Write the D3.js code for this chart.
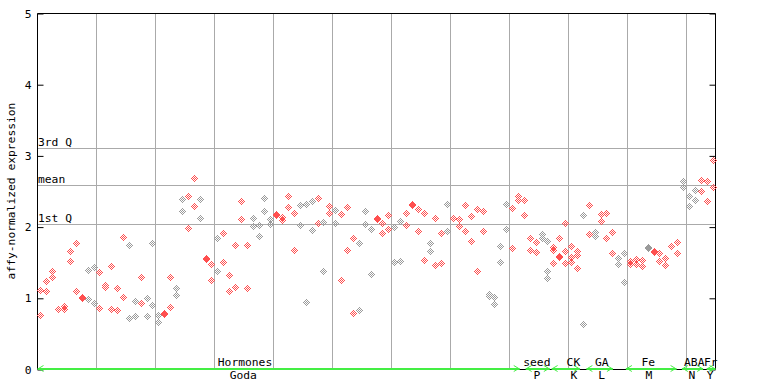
<!DOCTYPE html>
<html><head><meta charset="utf-8">
<script src="https://cdn.jsdelivr.net/npm/d3@7"></script>
<style>
body{margin:0;background:#fff}
svg{display:block}
text{font-family:"DejaVu Sans Mono",monospace;font-size:11.3px;fill:#000}
</style>
</head><body><svg id="c" width="768" height="384"></svg>
<script>
// expression values per sample (replicates)
const values = [
[1.12,0.77],[1.25,1.10],[1.38,1.30],[0.85],[0.89,0.85],[1.66,1.53],[1.77,1.10],[1.02,1.006],[1.40,0.99],[1.44,0.94],
[1.37,0.87],[1.19,1.16],[1.46,0.85],[1.15,0.84],[1.86,1.02],[1.75,0.73],[0.96,0.75],[1.30,0.94],[1.01,0.75],[1.77,0.91],
[0.77,0.67],[0.79,0.776],[1.30,0.88],[1.15,1.04],[2.40,2.22],[2.43,1.99],[2.69,2.30],[2.40,2.13],[1.56,1.546],[1.48,1.26],
[1.85,1.39],[1.92,1.51],[1.33,1.10],[1.75,1.16],[2.37,2.12],[1.75,1.14],[2.13,2.02],[2.03,1.88],[2.41,2.23],[2.12,2.05],
[2.18,2.166],[2.14,2.10],[2.43,2.28],[2.20,1.68],[2.31,2.03],[2.33,0.95],[2.36,1.96],[2.41,2.06],[2.07,1.39],[2.30,2.20],
[2.24,2.06],[2.19,1.26],[2.28,1.68],[1.84,0.80],[1.77,0.84],[2.23,2.05],[1.98,1.34],[2.13,2.116],[2.06,1.92],[2.17,1.98],
[2.00,1.51],[2.09,1.53],[2.20,2.03],[2.33,2.316],[2.26,1.95],[2.20,1.54],[1.78,1.67],[2.13,1.47],[1.92,1.50],[2.33,1.95],
[2.13],[2.12,2.02],[2.31,1.95],[2.16,1.81],[2.26,1.39],[2.23,1.95],[1.06,1.03],[1.02,0.92],[1.74,1.51],[2.33,1.98],
[2.27,1.71],[2.44,2.38],[2.38,2.17],[1.84,1.68],[1.79,1.65],[1.91,1.85],[1.81,1.39,1.29],[1.72,1.68,1.50],[1.84,1.59,1.576],[2.06,1.67,1.50],
[1.74,1.58,1.51],[1.67,1.61,1.43],[2.17,0.64],[2.31,1.91],[1.93,1.88],[2.19,2.09],[2.20,1.85],[1.93,1.63],[1.57,1.48],[1.63,1.23],
[1.53,1.48],[1.55,1.48],[1.54,1.46],[1.72,1.70],[1.67,1.656],[1.63,1.53],[1.57,1.47],[1.74],[1.79,1.64],[2.65,2.57],
[2.44,2.30],[2.52,2.38],[2.66,2.51],[2.65,2.37],[2.94,2.57]
];
// samples drawn in grey (others red)
const greySamples = [8,9,15,16,18,19,20,23,24,27,30,36,37,38,39,44,45,46,48,50,54,55,56,60,61,66,69,76,77,78,79,85,86,92,94,98,99,103,109,110,111];
const yTicks = [0,1,2,3,4,5];
const statValues = [3.11, 2.59, 2.04];
const statLabels = ["3rd Q","mean","1st Q"];
const gridSamples = [10,20,30,40,50,60,70,80,90,100,110];
const categories = ["Hormones","seed","CK","GA","Fe","ABA","Fr"];
const catStart = [0, 82.8, 87.2, 93.1, 99.8, 109.3, 113.5];
const catEnd   = [81.8, 86.9, 92.0, 97.6, 108.4, 112.9, 115];
const catLabelAt = [35.2, 84.7, 90.9, 95.7, 103.6, 111.4, 114.2];
const subLabels = ["Goda","P","K","L","M","N","Y"];
const subLabelAt = [34.9, 84.7, 91.0, 95.7, 103.7, 111.0, 114.1];
const nSamples = 115;

const svg = d3.select("#c");
const L = 37.5, R = 715.5, T = 13.5, B = 369.5;
const x = d3.scaleLinear().domain([0, nSamples]).range([L, R]);
const y = d3.scaleLinear().domain([0, 5]).range([B, T]);
const RED = "#ff4f4f", GREY = "#9a9a9a", GRID = "#aaaaaa", GREEN = "#44ee44";

// vertical grid
svg.append("g").selectAll("line").data(gridSamples).join("line")
  .attr("x1", d => Math.round(x(d)) + 0.5).attr("x2", d => Math.round(x(d)) + 0.5)
  .attr("y1", T).attr("y2", B).attr("stroke", GRID).attr("stroke-width", 1);
// stat lines
svg.append("g").selectAll("line").data(statValues).join("line")
  .attr("x1", L).attr("x2", R)
  .attr("y1", d => Math.round(y(d)) + 0.5).attr("y2", d => Math.round(y(d)) + 0.5)
  .attr("stroke", GRID).attr("stroke-width", 1);
svg.append("g").selectAll("text").data(statValues).join("text")
  .attr("x", L + 0.5).attr("y", d => Math.round(y(d)) - 2.5)
  .text((d, i) => statLabels[i]);

// axes
const ax = svg.append("g").attr("transform", `translate(${L},0)`)
  .call(d3.axisLeft(y).tickValues(yTicks).tickSize(-6).tickPadding(6).tickFormat(d3.format("d")));
ax.select(".domain").remove();
ax.selectAll("line").attr("stroke", "#000");
ax.selectAll("text").attr("font-size", null).attr("font-family", null);
const ar = svg.append("g").attr("transform", `translate(${R},0)`)
  .call(d3.axisRight(y).tickValues(yTicks).tickSize(-6).tickFormat(""));
ar.select(".domain").remove();
ar.selectAll("line").attr("stroke", "#000");

// frame
svg.append("path")
  .attr("d", `M${L},${B}V${T}H${R}V${B}`)
  .attr("fill", "none").attr("stroke", "#000").attr("stroke-width", 1);
svg.append("line").attr("x1", L).attr("x2", R).attr("y1", B).attr("y2", B)
  .attr("stroke", "#000").attr("stroke-width", 1);

// y label
svg.append("text").attr("transform", "translate(15,191) rotate(-90)")
  .attr("text-anchor", "middle").text("affy-normalized expression");

// points: checkered diamonds
const offs = [];
for (let dx = -3; dx <= 3; dx++) for (let dy = -3; dy <= 3; dy++) {
  const s = Math.abs(dx) + Math.abs(dy);
  if (s <= 3 && s % 2 === 1) offs.push([dx, dy]);
}
const pts = [];
values.forEach((arr, i) => arr.forEach(v => pts.push({i, v, grey: greySamples.includes(i)})));
function diamond(d) {
  const cx = Math.round(x(d.i + 0.5)) , cy = Math.round(y(d.v));
  return offs.map(([dx, dy]) => `M${cx + dx},${cy + dy}h1v1h-1z`).join("");
}
svg.append("g").attr("shape-rendering", "crispEdges").selectAll("path").data(pts).join("path")
  .attr("d", diamond).attr("fill", d => d.grey ? GREY : RED);

// category segments on x axis
const seg = svg.append("g").attr("stroke", GREEN).attr("fill", "none");
categories.forEach((c, k) => {
  const x0 = x(catStart[k]), x1 = x(catEnd[k]);
  seg.append("rect").attr("x", x0).attr("y", 368).attr("width", x1 - x0).attr("height", 2)
    .attr("fill", GREEN).attr("stroke", "none");
  seg.append("path").attr("d", `M${x0 + 6},365.5L${x0 + 1},368.5L${x0 + 6},371.5`).attr("stroke-width", 1);
  seg.append("path").attr("d", `M${x1 - 6},365.5L${x1 - 1},368.5L${x1 - 6},371.5`).attr("stroke-width", 1);
});
svg.append("g").selectAll("text").data(categories).join("text")
  .attr("x", (d, k) => x(catLabelAt[k])).attr("y", 366).attr("text-anchor", "middle").text(d => d);
svg.append("g").selectAll("text").data(subLabels).join("text")
  .attr("x", (d, k) => x(subLabelAt[k])).attr("y", 379).attr("text-anchor", "middle").text(d => d);
</script>
</body></html>
